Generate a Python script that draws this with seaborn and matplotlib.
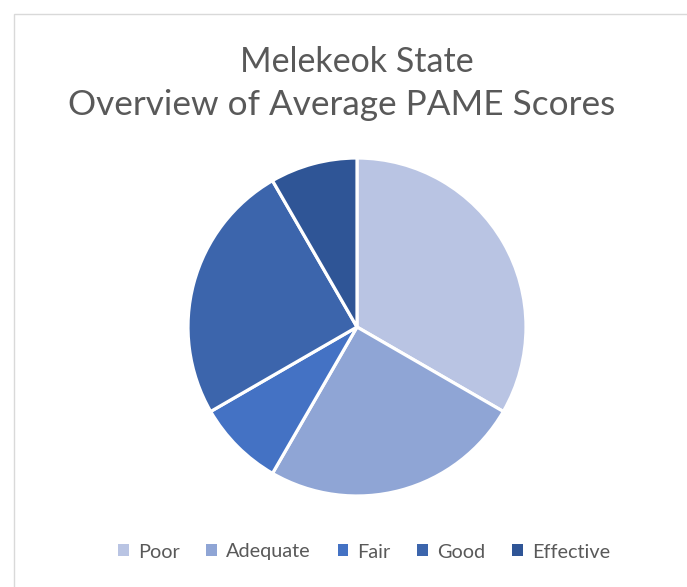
import seaborn as sns
import matplotlib.pyplot as plt
from matplotlib.patches import Rectangle

categories = ['Poor', 'Adequate', 'Fair', 'Good', 'Effective']
counts = [4, 3, 1, 3, 1]
colors = ['#B9C4E3', '#8FA5D5', '#4472C4', '#3C65AC', '#2F5596']

sns.set_theme(style='white')
plt.rcParams['font.family'] = ['Lato', 'DejaVu Sans']

fig = plt.figure(figsize=(6.87, 5.87), dpi=100)
fig.patch.set_facecolor('white')

# chart frame (left/top edge visible, rest runs off the image)
fig.patches.append(Rectangle((14 / 687, -0.1), 1.2, 1 - 14 / 587 + 0.1,
                             transform=fig.transFigure, fill=False,
                             edgecolor='#D9D9D9', linewidth=1))

r = 169
cx, cy = 357, 327
ax = fig.add_axes([(cx - r) / 687, (587 - cy - r) / 587, 2 * r / 687, 2 * r / 587])
wedges, _ = ax.pie(counts, colors=sns.color_palette(colors), startangle=90,
                   counterclock=False,
                   wedgeprops=dict(edgecolor='white', linewidth=2.3))
ax.set_xlim(-1, 1)
ax.set_ylim(-1, 1)
ax.axis('off')

fig.text(357 / 687, 1 - 62 / 587, 'Melekeok State', ha='center', va='center',
         fontsize=24.5, color='#595959')
fig.text(342 / 687, 1 - 105 / 587, 'Overview of Average PAME Scores', ha='center',
         va='center', fontsize=25.3, color='#595959')

leg = fig.legend(wedges, categories, loc='center', bbox_to_anchor=(364 / 687, 1 - 552 / 587),
                 ncol=5, frameon=False, fontsize=14.3, handlelength=0.55, handleheight=0.55,
                 handletextpad=0.45, columnspacing=1.35)
for t in leg.get_texts():
    t.set_color('#595959')
for h in leg.legend_handles:
    h.set_edgecolor('none')

fig.savefig('out.png', dpi=100, facecolor='white')
